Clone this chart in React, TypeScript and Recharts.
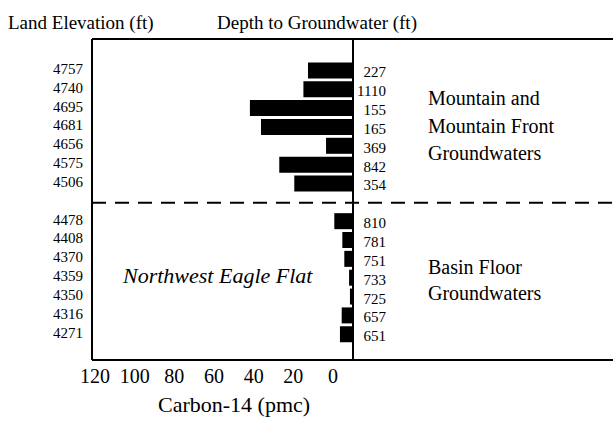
import React from "react";
import { BarChart, Bar, XAxis, YAxis, ReferenceLine, LabelList } from "recharts";

const elevations = ["4757", "4740", "4695", "4681", "4656", "4575", "4506", " ", "4478", "4408", "4370", "4359", "4350", "4316", "4271"];
const carbon14 = [20.7, 22.8, 47.4, 42.3, 12.4, 33.9, 27.0, null, 8.6, 4.9, 4.0, 1.8, 1.4, 5.2, 6.0];
const depths = [227, 1110, 155, 165, 369, 842, 354, null, 810, 781, 751, 733, 725, 657, 651];
const pmcTicks = [0, 20, 40, 60, 80, 100, 120];

const data = elevations.map((elev, i) => ({ elev, c14: carbon14[i], depth: depths[i] }));

const serif = "'Liberation Serif', 'Times New Roman', serif";

function ElevTick({ x, y, payload }: any) {
  return (
    <text x={x} y={y + 3} textAnchor="end" fontSize={15} fontFamily={serif} fill="#000">
      {payload.value}
    </text>
  );
}

function PmcTick({ x, y, payload }: any) {
  return (
    <text x={x} y={y + 22} textAnchor="middle" fontSize={20} fontFamily={serif} fill="#000">
      {payload.value}
    </text>
  );
}

function DepthLabel(props: any) {
  const { x, y, width, height, value } = props;
  if (value == null) return null;
  const right = Math.max(x, x + width);
  return (
    <text x={right + 33} y={y + height / 2 + 7} textAnchor="end" fontSize={15} fontFamily={serif} fill="#000">
      {value}
    </text>
  );
}

export default function App() {
  return (
    <div style={{ position: "absolute", left: 0, top: 0, width: 613, height: 422, background: "#fff" }}>
      <div style={{ width: 613, height: 422, overflow: "hidden" }}>
        <BarChart layout="vertical" width={620} height={422} data={data} margin={{ top: 38, right: 6, bottom: 0, left: 0 }}>
          <XAxis xAxisId="top" orientation="top" type="number" domain={[-120, 120]} height={1} tick={false} tickLine={false} axisLine={{ stroke: "#000", strokeWidth: 2 }} />
          <XAxis xAxisId="pmc" type="number" domain={[-120, 120]} reversed allowDataOverflow height={1} tick={false} tickLine={false} axisLine={{ stroke: "#000", strokeWidth: 2 }} />
          <XAxis
            xAxisId="pmcLabels"
            type="number"
            domain={[-141.7, 121.5]}
            reversed
            allowDataOverflow
            ticks={pmcTicks}
            height={61}
            axisLine={false}
            tickLine={false}
            tickSize={0}
            tickMargin={0}
            tick={<PmcTick />}
          />
          <YAxis
            dataKey="elev"
            type="category"
            width={92}
            padding={{ top: 22.4, bottom: 15.9 }}
            axisLine={{ stroke: "#000", strokeWidth: 2 }}
            tickLine={false}
            tickSize={0}
            tickMargin={9}
            interval={0}
            tick={<ElevTick />}
          />
          <ReferenceLine xAxisId="pmc" y=" " stroke="#000" strokeWidth={2} strokeDasharray="14 9" />
          <Bar xAxisId="pmc" dataKey="c14" fill="#000" barSize={16} isAnimationActive={false}>
            <LabelList dataKey="depth" content={<DepthLabel />} />
          </Bar>
          <ReferenceLine xAxisId="pmc" x={0} stroke="#000" strokeWidth={2} />
        </BarChart>
      </div>
      <svg width={613} height={422} style={{ position: "absolute", left: 0, top: 0, pointerEvents: "none" }} fontFamily={serif} fill="#000">
        <text x={8} y={29} fontSize={19}>Land Elevation (ft)</text>
        <text x={217} y={29} fontSize={19}>Depth to Groundwater (ft)</text>
        <text x={428} y={105} fontSize={20}>Mountain and</text>
        <text x={428} y={133} fontSize={20}>Mountain Front</text>
        <text x={428} y={160} fontSize={20}>Groundwaters</text>
        <text x={428} y={274} fontSize={20}>Basin Floor</text>
        <text x={428} y={300} fontSize={20}>Groundwaters</text>
        <text x={123} y={283} fontSize={22} fontStyle="italic">Northwest Eagle Flat</text>
        <text x={158} y={412} fontSize={22}>Carbon-14 (pmc)</text>
      </svg>
    </div>
  );
}
